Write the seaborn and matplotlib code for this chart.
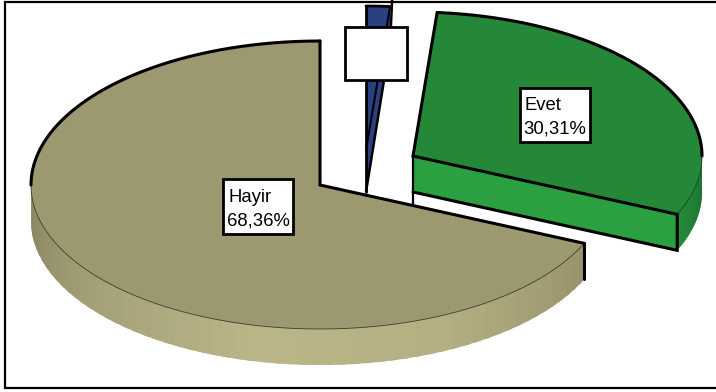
import numpy as np
import pandas as pd
import seaborn as sns
import matplotlib
matplotlib.use("Agg")
import matplotlib.pyplot as plt

# Survey answers and their shares in percent
categories = ["Hayir", "Evet", ""]
shares = [68.36, 30.31, 1.33]
value_labels = ["68,36%", "30,31%", ""]

sns.set_theme(style="white")
plt.rcParams["font.family"] = ["Liberation Sans", "DejaVu Sans"]

df = pd.DataFrame({"category": categories, "share": shares, "label": value_labels})
df["sweep"] = df["share"] / df["share"].sum() * 360
# Slices run counter-clockwise from twelve o'clock
df["start"] = 90 + df["sweep"].cumsum() - df["sweep"]
df["stop"] = 90 + df["sweep"].cumsum()

RX, RY, DEPTH = 289, 144, 36
centres = {"Hayir": (320, 185), "Evet": (413, 156), "": (366, 150)}
tops = {"Hayir": "#9c9870", "Evet": "#248838", "": "#2b4080"}
label_boxes = {"Hayir": (258, 206.5, 70, 55), "Evet": (555, 115, 70, 54), "": (376, 53, 62, 53)}

hayir_side = sns.blend_palette(["#88855e", "#a4a078", "#bbb688", "#b4af82", "#979269"], 60)
evet_side = sns.blend_palette(["#268a3a", "#1b7030"], 14)

fig = plt.figure(figsize=(7.16, 3.92), dpi=100)
ax = fig.add_axes([0, 0, 1, 1])
ax.set_xlim(0, 716)
ax.set_ylim(392, 0)
ax.axis("off")


def rim(centre, a0, a1, n=240):
    t = np.radians(np.linspace(a0, a1, n))
    return centre[0] + RX * np.cos(t), centre[1] - RY * np.sin(t)


def draw_side(centre, a0, a1, palette):
    # Bands are painted in order, each running on under the next so no seams show
    edges = np.linspace(a0, a1, len(palette) + 1)
    for colour, lo, hi in zip(palette, edges[:-1], edges[1:]):
        x, y = rim(centre, lo, min(hi + 1.5, a1), 12)
        ax.fill(np.r_[x, x[::-1]], np.r_[y, y[::-1] + DEPTH], color=colour, lw=0, zorder=2)


# Tan slice: most of the ellipse, with only its front wall showing
hayir = df.iloc[0]
c = centres["Hayir"]
draw_side(c, 180, hayir.stop, hayir_side)
x, y = rim(c, hayir.start, hayir.stop)
ax.fill(np.r_[c[0], x], np.r_[c[1], y], color=tops["Hayir"], lw=0, zorder=3)
xf, yf = rim(c, 180, hayir.stop)
ax.plot(xf, yf, color="#3a3a2c", lw=0.6, zorder=4)
xb, yb = rim(c, hayir.start, 180)
ax.plot(xb, yb, color="black", lw=2.2, zorder=5)
ax.plot([xb[0], c[0], x[-1]], [yb[0], c[1], y[-1]], color="black", lw=2.2, zorder=5, solid_joinstyle="miter")
ax.plot([x[-1], x[-1]], [y[-1], y[-1] + DEPTH], color="black", lw=2.2, zorder=5)

# Green slice pulled out to the upper right
evet = df.iloc[1]
c = centres["Evet"]
x, y = rim(c, evet.start, evet.stop)
draw_side(c, evet.start, 360, evet_side)
ax.fill([c[0], x[0], x[0], c[0]], [c[1], y[0], y[0] + DEPTH, c[1] + DEPTH], color="#2aa040", lw=0, zorder=3)
ax.fill(np.r_[c[0], x], np.r_[c[1], y], color=tops["Evet"], lw=0, zorder=3)
xf, yf = rim(c, evet.start, 360)
ax.plot(xf, yf, color="#14401f", lw=0.6, zorder=4)
xb, yb = rim(c, 360, evet.stop)
ax.plot(xb, yb, color="black", lw=2.2, zorder=5)
ax.plot([xb[-1], c[0], x[0]], [yb[-1], c[1], y[0]], color="black", lw=2.2, zorder=5, solid_joinstyle="miter")
ax.plot([x[0], x[0], c[0]], [y[0], y[0] + DEPTH, c[1] + DEPTH], color="black", lw=2.2, zorder=5, solid_joinstyle="miter")
ax.plot([c[0], c[0]], [c[1], c[1] + DEPTH + 13], color="black", lw=1.6, zorder=5)

# Narrow blue remainder, cut off by the frame at the top
rest = df.iloc[2]
c = centres[""]
x, y = rim(c, rest.start, rest.stop, 30)
tip = c[1] + DEPTH + 6
ax.fill(np.r_[c[0], x], np.r_[c[1], y], color=tops[""], lw=0, zorder=3)
ax.fill([c[0], x[0], x[0], c[0]], [c[1], y[0], y[0] + DEPTH, tip], color="#2b4080", lw=0, zorder=3)
ax.plot(x, y, color="black", lw=2, zorder=5)
ax.plot([x[0], c[0]], [y[0], c[1]], color="black", lw=1.5, zorder=5)
ax.plot([x[-1], c[0], c[0]], [y[-1], c[1], tip], color="black", lw=2, zorder=5)
ax.plot([x[0] + 2, x[0], c[0]], [0, y[0] + DEPTH, tip], color="black", lw=1.8, zorder=5)

# Value labels in white boxes
for name, value in zip(categories, value_labels):
    bx, by, w, h = label_boxes[name]
    ax.add_patch(plt.Rectangle((bx - w / 2, by - h / 2), w, h, fc="white", ec="black", lw=2, zorder=6))
    if name:
        ax.text(bx - w / 2 + 5, by - 5, name, fontsize=13.3, color="black", ha="left", va="baseline", zorder=7)
        ax.text(bx - w / 2 + 3.5, by + 19, value, fontsize=13.3, color="black", ha="left", va="baseline", zorder=7)

# Frame along the left, top and bottom edges
ax.plot([716, 5, 5, 716], [2, 2, 387.5, 387.5], color="black", lw=1.6, zorder=8, solid_joinstyle="miter")

fig.savefig("out.png", dpi=100, facecolor="white")
